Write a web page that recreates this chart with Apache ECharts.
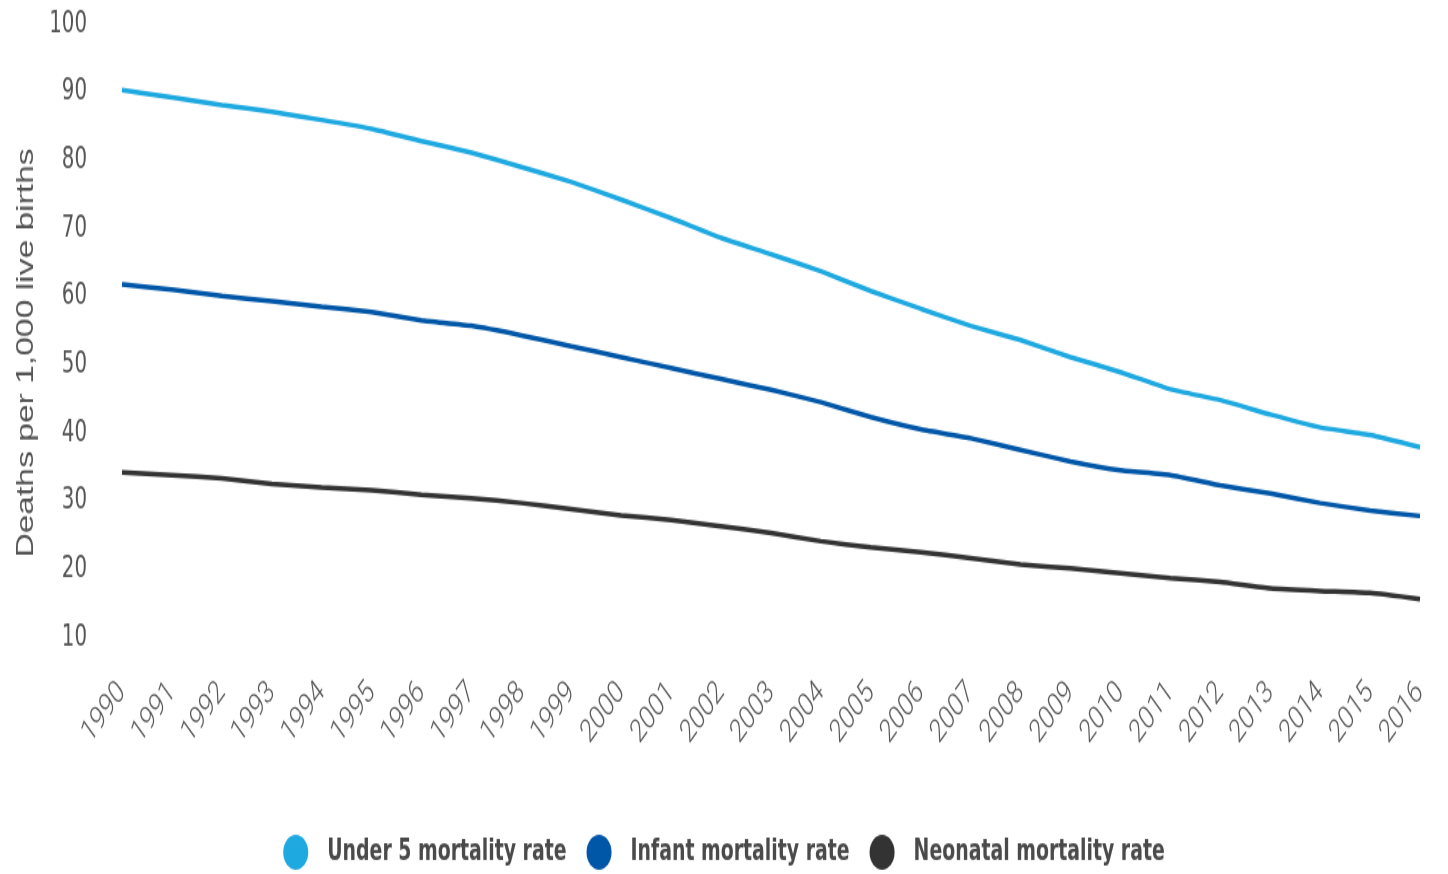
<!DOCTYPE html>
<html>
<head>
<meta charset="utf-8">
<script src="https://cdn.jsdelivr.net/npm/echarts@6/dist/echarts.min.js"></script>
<style>
  html, body { margin: 0; padding: 0; background: #ffffff; overflow: hidden; }
  /* the chart is laid out in a shorter box and stretched vertically */
  #wrap { width: 1448px; height: 874px; overflow: hidden; }
  #chart { width: 1448px; height: 624px; transform: scaleY(1.4006); transform-origin: 0 0; }
</style>
</head>
<body>
<div id="wrap"><div id="chart"></div></div>
<script>
// Years on the x axis
const years = ['1990','1991','1992','1993','1994','1995','1996','1997','1998','1999',
  '2000','2001','2002','2003','2004','2005','2006','2007','2008','2009',
  '2010','2011','2012','2013','2014','2015','2016'];

// Deaths per 1,000 live births
const under5 = [90.3, 89.2, 88.1, 87.1, 85.9, 84.6, 82.8, 81.1, 79.0, 76.8,
  74.2, 71.5, 68.6, 66.2, 63.7, 60.8, 58.2, 55.7, 53.6, 51.1,
  48.9, 46.4, 44.8, 42.7, 40.8, 39.7, 37.9];
const infant = [61.8, 61.0, 60.1, 59.3, 58.5, 57.7, 56.5, 55.7, 54.3, 52.7,
  51.1, 49.5, 47.9, 46.3, 44.5, 42.3, 40.5, 39.2, 37.5, 35.8,
  34.5, 33.8, 32.3, 31.1, 29.7, 28.6, 27.8];
const neonatal = [34.2, 33.8, 33.3, 32.5, 32.0, 31.6, 30.9, 30.4, 29.7, 28.8,
  27.9, 27.2, 26.3, 25.3, 24.1, 23.2, 22.5, 21.6, 20.7, 20.1,
  19.4, 18.7, 18.1, 17.2, 16.8, 16.5, 15.6];

const seriesNames = ['Under 5 mortality rate', 'Infant mortality rate', 'Neonatal mortality rate'];
const seriesColors = ['#1fa9e1', '#0057a8', '#333333'];

const narrowFont = "'Liberation Sans Narrow', 'DejaVu Sans Condensed', Roboto, sans-serif";
// oval legend marker, stretched to itemWidth x itemHeight
const ovalIcon = 'path://M50,0 A50,50 0 1,1 50,100 A50,50 0 1,1 50,0 Z';

const chart = echarts.init(document.getElementById('chart'), null, { renderer: 'canvas' });

const mkLine = (name, data, color) => ({
  name: name,
  type: 'line',
  data: data,
  smooth: 0.15,
  symbol: 'none',
  lineStyle: { width: 3.5, color: color },
  itemStyle: { color: color }
});

chart.setOption({
  animation: false,
  backgroundColor: '#ffffff',
  color: seriesColors,
  grid: { left: 122, right: 28, top: 17, bottom: 169, containLabel: false },
  legend: {
    data: seriesNames,
    left: 'center',
    top: 591,
    icon: ovalIcon,
    itemWidth: 25,
    itemHeight: 31,
    itemGap: 20,
    textStyle: {
      fontFamily: narrowFont,
      fontWeight: 'bold',
      fontSize: 21,
      color: '#4a4a4a',
      padding: [0, 0, 0, 14]
    }
  },
  xAxis: {
    type: 'category',
    data: years,
    boundaryGap: false,
    axisLine: { show: false },
    axisTick: { show: false },
    splitLine: { show: false },
    axisLabel: {
      interval: 0,
      rotate: 45,
      margin: 36,
      fontFamily: 'Roboto, sans-serif',
      fontWeight: 300,
      fontSize: 23,
      color: '#555555'
    }
  },
  yAxis: {
    type: 'value',
    min: 10,
    max: 100,
    interval: 10,
    name: 'Deaths per 1,000 live births',
    nameLocation: 'middle',
    nameGap: 75,
    nameTextStyle: {
      fontFamily: "'Liberation Sans', Arial, sans-serif",
      fontSize: 24,
      color: '#555555',
      padding: [0, 32, 0, 0]
    },
    axisLine: { show: false },
    axisTick: { show: false },
    splitLine: { show: false },
    axisLabel: {
      margin: 35,
      fontFamily: narrowFont,
      fontSize: 22,
      color: '#555555'
    }
  },
  series: [
    mkLine(seriesNames[0], under5, seriesColors[0]),
    mkLine(seriesNames[1], infant, seriesColors[1]),
    mkLine(seriesNames[2], neonatal, seriesColors[2])
  ]
});
</script>
</body>
</html>
